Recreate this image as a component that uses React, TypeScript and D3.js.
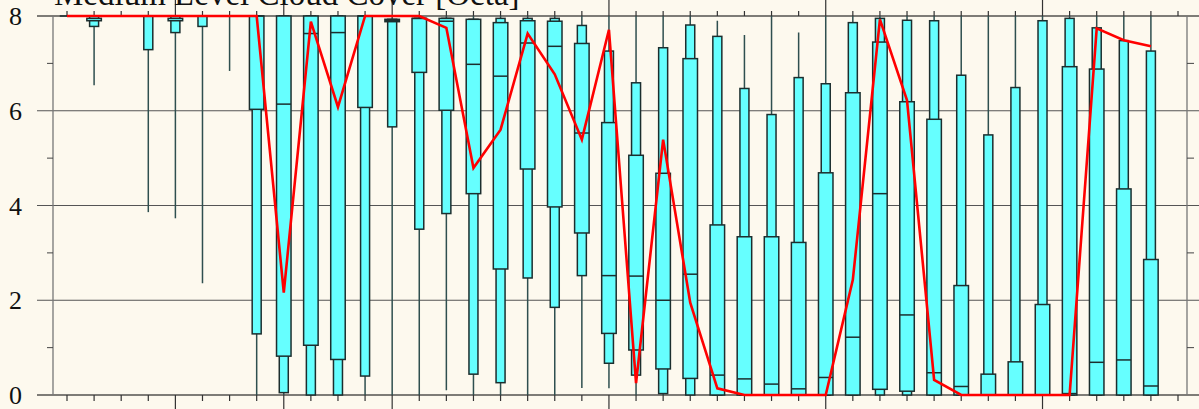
// App.tsx
import React, { useEffect, useRef } from "react";
import * as d3 from "d3";

// box statistics per forecast step (octa)
const mins = [8, 6.54, 8, 3.86, 3.73, 2.36, 6.84, 0, 0, 0, 0, 0, 0, 0, 0.1, 0, 0, 0, 0, 0.15, 0.14, 0, 0, 0, 0, 0, 0, 0, 0, 0, 0, 0, 0, 0, 0, 0, 0, 0, 0, 0, 0];
const p10 = [8, 7.78, 8, 7.29, 7.65, 7.78, 8, 1.29, 0.05, 0, 0, 0.4, 5.66, 3.5, 3.83, 0.44, 0.26, 2.47, 1.85, 2.52, 0.67, 0.42, 0.03, 0, 0, 0, 0, 0, 0, 0, 0, 0, 0, 0, 0, 0, 0, 0, 0, 0, 0];
const q25 = [8, 7.9, 8, 8, 7.9, 8, 8, 6.03, 0.82, 1.05, 0.75, 6.07, 7.88, 6.81, 6.01, 4.25, 2.66, 4.77, 3.97, 3.42, 1.3, 0.95, 0.55, 0.35, 0, 0, 0, 0, 0, 0, 0.12, 0.08, 0, 0, 0, 0, 0, 0, 0, 0, 0];
const medians = [8, 8, 8, 8, 8, 8, 8, 8, 6.14, 7.63, 7.65, 8, 7.9, 7.95, 7.89, 6.98, 6.73, 7.43, 7.36, 5.53, 2.52, 2.51, 2.0, 2.55, 0.42, 0.34, 0.23, 0.13, 0.37, 1.22, 4.25, 1.69, 0.47, 0.18, 0, 0, 0, 0.03, 0.69, 0.74, 0.19];
const q75 = [8, 7.95, 8, 8, 7.95, 8, 8, 8, 8, 8, 8, 8, 7.93, 7.95, 7.95, 7.93, 7.86, 7.9, 7.89, 7.42, 5.75, 5.06, 4.68, 7.1, 3.59, 3.34, 3.34, 3.22, 4.69, 6.38, 7.45, 6.19, 5.82, 2.31, 0.44, 0.7, 1.91, 6.93, 6.88, 4.35, 2.86];
const p90 = [8, 8, 8, 8, 8, 8, 8, 8, 8, 8, 8, 8, 7.93, 7.95, 7.95, 7.93, 7.95, 7.95, 7.95, 7.8, 7.26, 6.59, 7.33, 7.81, 7.57, 6.47, 5.92, 6.7, 6.57, 7.86, 7.95, 7.91, 7.9, 6.75, 5.49, 6.49, 7.9, 7.95, 7.75, 7.48, 7.26];
const maxs = [8, 8, 8, 8, 8, 8, 8, 8, 8, 8, 8, 8, 8, 8, 8, 8, 8, 8, 8, 8, 8, 8, 8, 8, 7.9, 7.6, 8, 7.65, 8, 8, 8, 8, 8, 8, 8, 8, 8, 8, 8, 8, 8];
// red line (deterministic run)
const redLine = [8, 8, 8, 8, 8, 8, 8, 8, 2.16, 7.88, 6.08, 8, 8, 8, 7.75, 4.79, 5.6, 7.63, 6.77, 5.39, 7.71, 0.25, 5.39, 1.95, 0.14, 0, 0, 0, 0, 2.43, 7.93, 6.22, 0.32, 0, 0, 0, 0, 0, 7.74, 7.49, 7.36];

const yTicks = [0, 2, 4, 6, 8];
const yMinor = [1, 3, 5, 7];
const tickCount = 42;
const majorTicks = [4, 8, 12, 20, 28, 36];
const title = "Medium Level Cloud Cover [Octa]";

const App: React.FC = () => {
  const ref = useRef<SVGSVGElement>(null);

  useEffect(() => {
    const width = 1199,
      height = 409;
    const svg = d3.select(ref.current);
    svg.selectAll("*").remove();

    const x = d3.scaleLinear().domain([0, tickCount - 1]).range([67, 1178]);
    const y = d3.scaleLinear().domain([0, 8]).range([395, 16]);
    const left = 53,
      right = 1187;

    svg.append("rect").attr("width", width).attr("height", height).attr("fill", "#fdf9ee");

    // horizontal grid
    svg
      .selectAll(".grid")
      .data(yTicks)
      .enter()
      .append("line")
      .attr("x1", 37)
      .attr("x2", width)
      .attr("y1", (d) => y(d))
      .attr("y2", (d) => y(d))
      .attr("stroke", (d) => (d === 0 || d === 8 ? "#000" : "#555"))
      .attr("stroke-width", 1.2);

    // side axes
    [left, right].forEach((px) => {
      svg
        .append("line")
        .attr("x1", px)
        .attr("x2", px)
        .attr("y1", y(8))
        .attr("y2", y(0))
        .attr("stroke", "#777")
        .attr("stroke-width", 1.3);
    });
    svg
      .selectAll(".yminorL")
      .data(yMinor)
      .enter()
      .append("line")
      .attr("x1", left - 6)
      .attr("x2", left)
      .attr("y1", (d) => y(d))
      .attr("y2", (d) => y(d))
      .attr("stroke", "#444");
    svg
      .selectAll(".yminorR")
      .data(yMinor)
      .enter()
      .append("line")
      .attr("x1", right)
      .attr("x2", right + 7)
      .attr("y1", (d) => y(d))
      .attr("y2", (d) => y(d))
      .attr("stroke", "#444");

    // y labels
    svg
      .selectAll(".ylab")
      .data(yTicks)
      .enter()
      .append("text")
      .attr("x", 22)
      .attr("y", (d) => y(d))
      .attr("dy", "0.35em")
      .attr("text-anchor", "end")
      .style("font-family", "'Liberation Serif', 'DejaVu Serif', serif")
      .style("font-size", "26px")
      .attr("fill", "#111")
      .text((d) => d);

    // x ticks top and bottom
    const ticks = d3.range(tickCount);
    svg
      .selectAll(".xtickB")
      .data(ticks)
      .enter()
      .append("line")
      .attr("x1", (d) => x(d))
      .attr("x2", (d) => x(d))
      .attr("y1", y(0))
      .attr("y2", (d) => (majorTicks.includes(d) ? height : y(0) + 6))
      .attr("stroke", "#333")
      .attr("stroke-width", 1.2);
    svg
      .selectAll(".xtickT")
      .data(ticks)
      .enter()
      .append("line")
      .attr("x1", (d) => x(d))
      .attr("x2", (d) => x(d))
      .attr("y1", y(8))
      .attr("y2", (d) => (majorTicks.includes(d) ? 0 : y(8) - 5))
      .attr("stroke", "#333")
      .attr("stroke-width", 1.2);

    const idx = d3.range(mins.length);
    const wideW = 14.5,
      narrowW = 9;

    // whiskers
    svg
      .selectAll(".whisker")
      .data(idx)
      .enter()
      .append("line")
      .attr("x1", (i) => x(i))
      .attr("x2", (i) => x(i))
      .attr("y1", (i) => y(maxs[i]))
      .attr("y2", (i) => y(mins[i]))
      .attr("stroke", "#2f4f4f")
      .attr("stroke-width", 1.5);

    // 10-90 boxes
    svg
      .selectAll(".narrow")
      .data(idx)
      .enter()
      .append("rect")
      .attr("x", (i) => x(i) - narrowW / 2)
      .attr("y", (i) => y(p90[i]))
      .attr("width", narrowW)
      .attr("height", (i) => y(p10[i]) - y(p90[i]))
      .attr("fill", "#66ffff")
      .attr("stroke", "#1c2e2e")
      .attr("stroke-width", 1.5);

    // 25-75 boxes
    svg
      .selectAll(".wide")
      .data(idx)
      .enter()
      .append("rect")
      .attr("x", (i) => x(i) - wideW / 2)
      .attr("y", (i) => y(q75[i]))
      .attr("width", wideW)
      .attr("height", (i) => y(q25[i]) - y(q75[i]))
      .attr("fill", "#66ffff")
      .attr("stroke", "#1c2e2e")
      .attr("stroke-width", 1.5);

    // medians
    svg
      .selectAll(".median")
      .data(idx)
      .enter()
      .append("line")
      .attr("x1", (i) => x(i) - wideW / 2)
      .attr("x2", (i) => x(i) + wideW / 2)
      .attr("y1", (i) => y(medians[i]))
      .attr("y2", (i) => y(medians[i]))
      .attr("stroke", "#1c2e2e")
      .attr("stroke-width", 1.5);

    // red line
    const line = d3
      .line<number>()
      .x((d, i) => x(i))
      .y((d) => y(d));
    svg
      .append("path")
      .datum(redLine)
      .attr("d", line)
      .attr("fill", "none")
      .attr("stroke", "#ff0000")
      .attr("stroke-width", 2.6)
      .attr("stroke-linejoin", "miter");

    // title (cut off at the top)
    svg
      .append("text")
      .attr("x", 54)
      .attr("y", 5)
      .style("font-family", "'Liberation Serif', 'DejaVu Serif', serif")
      .style("font-size", "33px")
      .attr("fill", "#111")
      .text(title);
  }, []);

  return (
    <svg
      ref={ref}
      width={1199}
      height={409}
      style={{ position: "absolute", left: 0, top: 0 }}
    />
  );
};

export default App;
